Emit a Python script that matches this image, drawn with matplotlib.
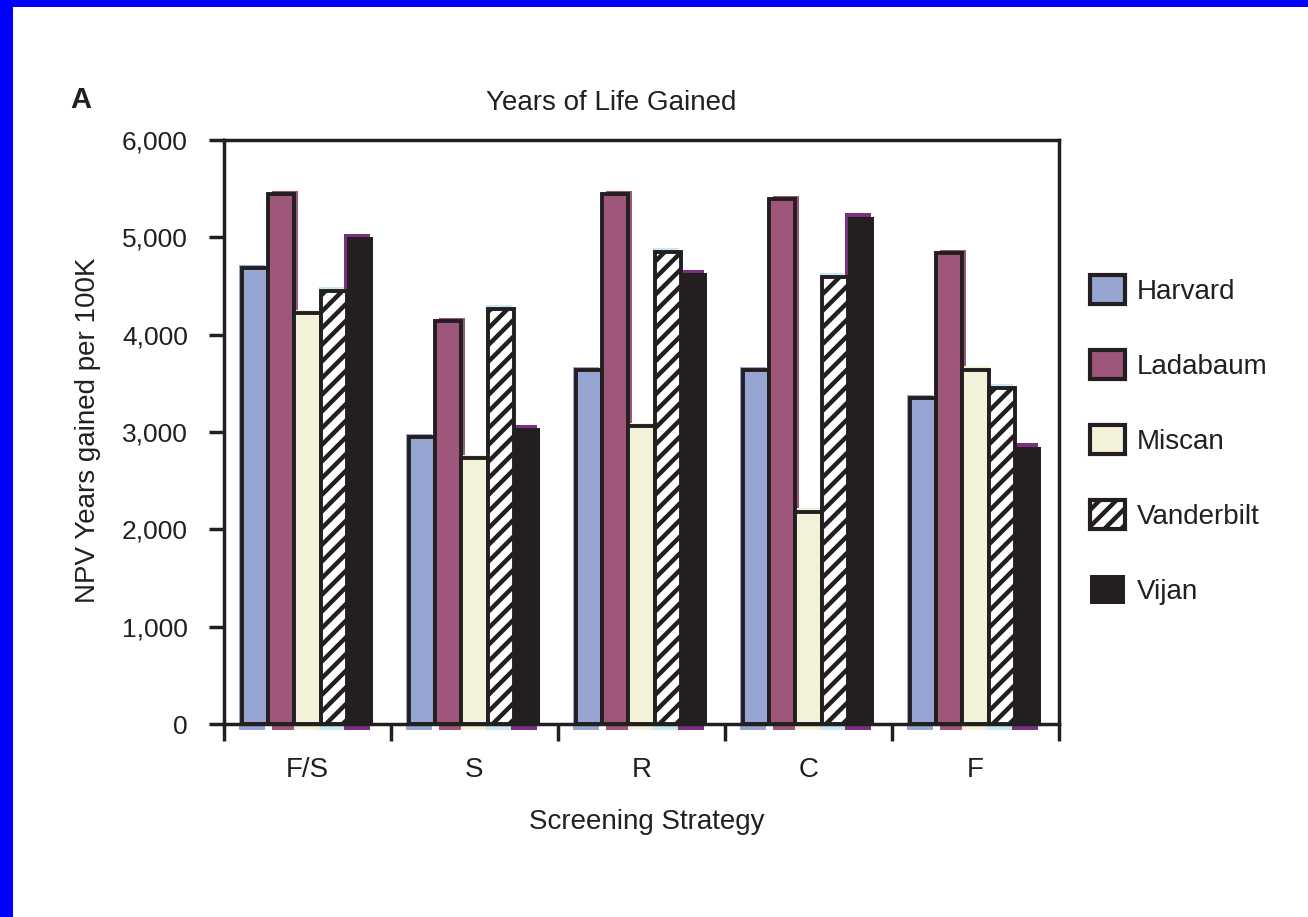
import matplotlib
matplotlib.use("Agg")
from matplotlib import pyplot as plt
from matplotlib.patches import Patch, Rectangle
import numpy as np

strategies = ["F/S", "S", "R", "C", "F"]
models = ["Harvard", "Ladabaum", "Miscan", "Vanderbilt", "Vijan"]

harvard = [4690, 2950, 3640, 3640, 3350]
ladabaum = [5450, 4140, 5450, 5390, 4840]
miscan = [4220, 2730, 3060, 2180, 3640]
vanderbilt = [4450, 4260, 4850, 4590, 3450]
vijan = [5000, 3040, 4630, 5210, 2850]

yticks = [0, 1000, 2000, 3000, 4000, 5000, 6000]
ytick_labels = ["0", "1,000", "2,000", "3,000", "4,000", "5,000", "6,000"]

ink = "#231f20"
face_colors = ["#96a5d2", "#9e567a", "#f3f2d9", "#ffffff", "#231f20"]
# print colours that show at the mis-registered edges of each bar
shadow_colors = ["#96a5d2", "#9e567a", "#f3f2d9", "#c8e8f4", "#7b2f80"]
shadow_dx = [-0.018, 0.022, 0.0, -0.012, -0.014]
shadow_top = [30, 30, 35, 40, 35]

plt.rcParams['font.family'] = ['Liberation Sans', 'DejaVu Sans']
plt.rcParams['text.color'] = ink
plt.rcParams['hatch.linewidth'] = 3.2
plt.rcParams['hatch.color'] = "black"

fig = plt.figure(figsize=(13.08, 9.17), dpi=100)
ax = fig.add_axes([224 / 1308, 1 - 724 / 917, 835 / 1308, 584 / 917])

series = [harvard, ladabaum, miscan, vanderbilt, vijan]
x = np.arange(len(strategies))
width = 0.156

for k, values in enumerate(series):
    pos = x + (k - 2) * width
    values = np.array(values)
    ax.bar(pos + shadow_dx[k], values + 60 + shadow_top[k], width, bottom=-60,
           color=shadow_colors[k], linewidth=0, clip_on=False, zorder=1)
    if models[k] == "Vijan":
        ax.bar(pos, values, width, color=face_colors[k], linewidth=0, zorder=2)
    elif models[k] == "Vanderbilt":
        ax.bar(pos, values, width, color=face_colors[k], edgecolor=ink,
               linewidth=2.8, hatch="//", zorder=2)
    else:
        ax.bar(pos, values, width, color=face_colors[k], edgecolor=ink,
               linewidth=2.8, zorder=2)

ax.set_xlim(-0.5, 4.5)
ax.set_ylim(0, 6000)

for s in ax.spines.values():
    s.set_linewidth(2.5)
    s.set_color(ink)
    s.set_zorder(3)

ax.set_yticks(yticks)
ax.set_yticklabels(ytick_labels)
ax.tick_params(axis="y", length=11, width=2.5, color=ink, pad=15,
               labelsize=19, labelcolor=ink)

ax.set_xticks(np.arange(-0.5, 5, 1))
ax.set_xticklabels([])
ax.tick_params(axis="x", which="major", length=12, width=2.5, color=ink)
ax.set_xticks(x, minor=True)
ax.set_xticklabels(strategies, minor=True)
ax.tick_params(axis="x", which="minor", length=0, pad=24, labelsize=20,
               labelcolor=ink)

fig.text(611 / 1308, 1 - 103 / 917, "Years of Life Gained", ha="center",
         va="center", fontsize=20)
fig.text(81 / 1308, 1 - 100 / 917, "A", ha="center", va="center",
         fontsize=21, fontweight="bold")
fig.text(88 / 1308, 1 - 430 / 917, "NPV Years gained per 100K", rotation=90,
         ha="center", va="center", fontsize=20)
fig.text(647 / 1308, 1 - 822 / 917, "Screening Strategy", ha="center",
         va="center", fontsize=20)

handles = []
for k in range(len(models)):
    if models[k] == "Vijan":
        handles.append(Patch(facecolor=face_colors[k], edgecolor=ink, linewidth=0))
    elif models[k] == "Vanderbilt":
        handles.append(Patch(facecolor="white", edgecolor=ink, linewidth=3,
                             hatch="//"))
    else:
        handles.append(Patch(facecolor=face_colors[k], edgecolor=ink, linewidth=3))

fig.legend(handles, models, loc="upper left",
           bbox_to_anchor=(1090 / 1308, 1 - 275 / 917),
           frameon=False, fontsize=20, handlelength=1.25, handleheight=1.25,
           handletextpad=0.45, labelspacing=1.62, borderpad=0, borderaxespad=0)

# blue frame on the top and left edges
fig.add_artist(Rectangle((0, 0), 13 / 1308, 1, transform=fig.transFigure,
                         color="#0000ff", linewidth=0))
fig.add_artist(Rectangle((0, 1 - 7 / 917), 1, 7 / 917, transform=fig.transFigure,
                         color="#0000ff", linewidth=0))

fig.savefig("out.png", dpi=100)
